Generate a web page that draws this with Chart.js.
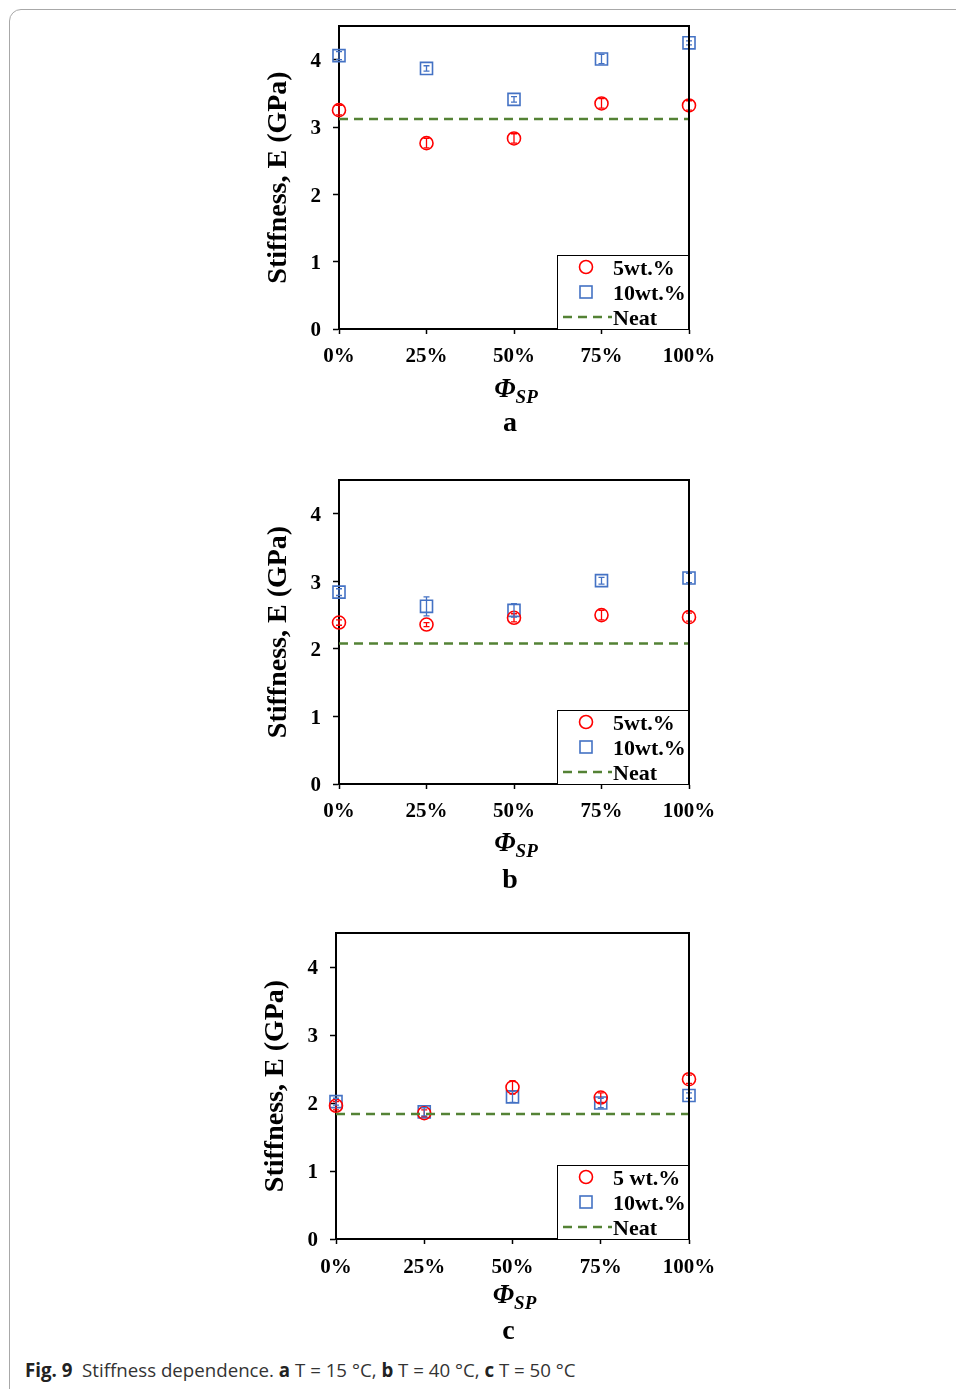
<!DOCTYPE html>
<html>
<head>
<meta charset="utf-8">
<script src="https://cdn.jsdelivr.net/npm/chart.js@4.4.0/dist/chart.umd.min.js"></script>
<style>
  html, body { margin: 0; padding: 0; background: #fff; }
  body { width: 956px; height: 1389px; position: relative; overflow: hidden; }
  .frame { position: absolute; left: 9px; top: 9px; width: 1000px; height: 1420px;
           border: 1px solid #a8a8a8; border-radius: 12px; }
  canvas { position: absolute; left: 0; }
  .caption { position: absolute; left: 25px; top: 1357px; font-family: 'Open Sans';
             font-size: 18.7px; color: #333; white-space: nowrap; }
  .caption b { color: #222; }
</style>
</head>
<body>
<div class="frame"></div>
<canvas id="chartA" width="956" height="450" style="top:0px"></canvas>
<canvas id="chartB" width="956" height="450" style="top:454px"></canvas>
<canvas id="chartC" width="956" height="440" style="top:906px"></canvas>
<div class="caption"><b>Fig. 9</b>&nbsp; Stiffness dependence. <b>a</b> T = 15 °C, <b>b</b> T = 40 °C, <b>c</b> T = 50 °C</div>

<script>
// x positions (Φ_SP, %) and axis ticks
const phiSP = [0, 25, 50, 75, 100];
const xTicks = [0, 25, 50, 75, 100];
const yTicks = [0, 1, 2, 3, 4];

// a: T = 15 °C
const a5wt = [3.25, 2.76, 2.83, 3.35, 3.32];
const a5wtErr = [0.07, 0.07, 0.07, 0.07, 0.07];
const a10wt = [4.06, 3.87, 3.41, 4.01, 4.25];
const a10wtErr = [0.06, 0.04, 0.04, 0.07, 0.03];
const aNeat = 3.12;
const aLegend = ['5wt.%', '10wt.%', 'Neat'];

// b: T = 40 °C
const b5wt = [2.39, 2.36, 2.46, 2.50, 2.47];
const b5wtErr = [0.04, 0.03, 0.06, 0.07, 0.06];
const b10wt = [2.84, 2.63, 2.57, 3.01, 3.05];
const b10wtErr = [0.05, 0.14, 0.10, 0.05, 0.07];
const bNeat = 2.08;
const bLegend = ['5wt.%', '10wt.%', 'Neat'];

// c: T = 50 °C
const c5wt = [1.96, 1.85, 2.23, 2.08, 2.35];
const c5wtErr = [0.06, 0.05, 0.10, 0.07, 0.06];
const c10wt = [2.02, 1.87, 2.09, 2.00, 2.11];
const c10wtErr = [0.05, 0.06, 0.08, 0.07, 0.04];
const cNeat = 1.84;
const cLegend = ['5 wt.%', '10wt.%', 'Neat'];

const RED = '#ff0000';
const BLUE = '#4472c4';
const GREEN = '#548235';
const SERIF = '"Liberation Serif", "Times New Roman", serif';

Chart.defaults.font.family = SERIF;
Chart.defaults.font.weight = 'bold';
Chart.defaults.color = '#000';

function makePanel(id, p) {
    const canvas = document.getElementById(id);
    const H = canvas.height;

    const extras = {
        id: 'extras',
        afterDatasetsDraw(chart) {
            const { ctx, scales: { x, y } } = chart;
            [[p.s5, p.e5, RED], [p.s10, p.e10, BLUE]].forEach(([vals, errs, col]) => {
                ctx.save();
                ctx.strokeStyle = col;
                ctx.lineWidth = 1.3;
                phiSP.forEach((v, i) => {
                    const px = x.getPixelForValue(v);
                    const y1 = y.getPixelForValue(vals[i] - errs[i]);
                    const y2 = y.getPixelForValue(vals[i] + errs[i]);
                    ctx.beginPath();
                    ctx.moveTo(px, y1); ctx.lineTo(px, y2);
                    ctx.moveTo(px - 3, y1); ctx.lineTo(px + 3, y1);
                    ctx.moveTo(px - 3, y2); ctx.lineTo(px + 3, y2);
                    ctx.stroke();
                });
                ctx.restore();
            });
        },
        afterDraw(chart) {
            const { ctx, chartArea: ca } = chart;
            ctx.save();
            // top and right frame
            ctx.strokeStyle = '#000';
            ctx.lineWidth = 2;
            ctx.beginPath();
            ctx.moveTo(ca.left, ca.top);
            ctx.lineTo(ca.right, ca.top);
            ctx.lineTo(ca.right, ca.bottom);
            ctx.stroke();

            // legend box
            const bx = ca.right - 132, by = ca.bottom - 74, bw = 131, bh = 74;
            ctx.fillStyle = '#fff';
            ctx.fillRect(bx, by, bw, bh);
            ctx.lineWidth = 1;
            ctx.strokeRect(bx + 0.5, by + 0.5, bw, bh);
            const rows = [by + 12, by + 37, by + 62];
            const mx = bx + 29;
            ctx.lineWidth = 1.6;
            ctx.strokeStyle = RED;
            ctx.beginPath();
            ctx.arc(mx, rows[0], 6.5, 0, Math.PI * 2);
            ctx.stroke();
            ctx.strokeStyle = BLUE;
            ctx.strokeRect(mx - 6, rows[1] - 6, 12, 12);
            ctx.strokeStyle = GREEN;
            ctx.lineWidth = 2.5;
            ctx.setLineDash([9, 6]);
            ctx.beginPath();
            ctx.moveTo(bx + 6, rows[2]);
            ctx.lineTo(bx + 55, rows[2]);
            ctx.stroke();
            ctx.setLineDash([]);
            ctx.fillStyle = '#000';
            ctx.font = 'bold 22px ' + SERIF;
            ctx.textBaseline = 'middle';
            ctx.textAlign = 'left';
            p.legend.forEach((t, i) => ctx.fillText(t, bx + 56, rows[i] + 2));

            // y axis title
            ctx.save();
            ctx.translate(ca.left - 60, (ca.top + ca.bottom) / 2);
            ctx.rotate(-Math.PI / 2);
            ctx.textAlign = 'center';
            ctx.font = 'bold 28px ' + SERIF;
            ctx.fillText('Stiffness, E (GPa)', 0, 0);
            ctx.restore();

            // x axis title Φ_SP
            const cx = (ca.left + ca.right) / 2 + 2;
            ctx.font = 'italic bold 27px ' + SERIF;
            const wPhi = ctx.measureText('Φ').width;
            ctx.font = 'italic bold 19px ' + SERIF;
            const wSP = ctx.measureText('SP').width;
            const x0 = cx - (wPhi + wSP) / 2;
            ctx.textBaseline = 'alphabetic';
            ctx.font = 'italic bold 27px ' + SERIF;
            ctx.fillText('Φ', x0, ca.bottom + p.phiY);
            ctx.font = 'italic bold 19px ' + SERIF;
            ctx.fillText('SP', x0 + wPhi, ca.bottom + p.phiY + 6);

            // panel letter
            ctx.font = 'bold 28px ' + SERIF;
            ctx.textAlign = 'center';
            ctx.textBaseline = 'middle';
            ctx.fillText(p.letter, cx - 6, ca.bottom + p.letterY);
            ctx.restore();
        }
    };

    const points = vals => phiSP.map((v, i) => ({ x: v, y: vals[i] }));

    return new Chart(canvas, {
        type: 'line',
        data: {
            datasets: [
                {
                    label: 'Neat',
                    data: [{ x: xTicks[0], y: p.neat }, { x: xTicks[xTicks.length - 1], y: p.neat }],
                    borderColor: GREEN,
                    borderWidth: 2.5,
                    borderDash: [9, 6],
                    pointRadius: 0
                },
                {
                    label: p.legend[0],
                    data: points(p.s5),
                    showLine: false,
                    pointStyle: 'circle',
                    pointRadius: 6.5,
                    pointBorderWidth: 1.6,
                    pointBorderColor: RED,
                    pointBackgroundColor: 'rgba(0,0,0,0)',
                    clip: false
                },
                {
                    label: p.legend[1],
                    data: points(p.s10),
                    showLine: false,
                    pointStyle: 'rect',
                    pointRadius: 8.5,
                    pointBorderWidth: 1.6,
                    pointBorderColor: BLUE,
                    pointBackgroundColor: 'rgba(0,0,0,0)',
                    clip: false
                }
            ]
        },
        options: {
            responsive: false,
            animation: false,
            events: [],
            layout: {
                padding: { left: 0, right: 956 - p.right, top: p.top, bottom: 0 }
            },
            plugins: {
                legend: { display: false },
                tooltip: { enabled: false }
            },
            scales: {
                x: {
                    type: 'linear',
                    min: 0,
                    max: 100,
                    afterBuildTicks: s => { s.ticks = xTicks.map(v => ({ value: v })); },
                    afterFit: s => { s.height = H - p.bottom; },
                    grid: { drawOnChartArea: false, tickLength: 5, tickWidth: 1.5, tickColor: '#000' },
                    border: { color: '#000', width: 2 },
                    ticks: {
                        padding: p.tickPad,
                        maxRotation: 0,
                        font: { size: 21, weight: 'bold' },
                        callback: v => v + '%'
                    }
                },
                y: {
                    min: 0,
                    max: 4.5,
                    afterBuildTicks: s => { s.ticks = yTicks.map(v => ({ value: v })); },
                    afterFit: s => { s.width = p.left; },
                    grid: { drawOnChartArea: false, tickLength: 6, tickWidth: 1.5, tickColor: '#000' },
                    border: { color: '#000', width: 2 },
                    ticks: {
                        padding: 12,
                        labelOffset: 2,
                        font: { size: 21, weight: 'bold' }
                    }
                }
            }
        },
        plugins: [extras]
    });
}

makePanel('chartA', { left: 339, right: 689, top: 26, bottom: 329, letter: 'a', tickPad: 10, phiY: 68, letterY: 95,
    s5: a5wt, e5: a5wtErr, s10: a10wt, e10: a10wtErr, neat: aNeat, legend: aLegend });
makePanel('chartB', { left: 339, right: 689, top: 26, bottom: 330, letter: 'b', tickPad: 10, phiY: 67, letterY: 97,
    s5: b5wt, e5: b5wtErr, s10: b10wt, e10: b10wtErr, neat: bNeat, legend: bLegend });
makePanel('chartC', { left: 336, right: 689, top: 27, bottom: 333, letter: 'c', tickPad: 11, phiY: 64, letterY: 93,
    s5: c5wt, e5: c5wtErr, s10: c10wt, e10: c10wtErr, neat: cNeat, legend: cLegend });
</script>
</body>
</html>
